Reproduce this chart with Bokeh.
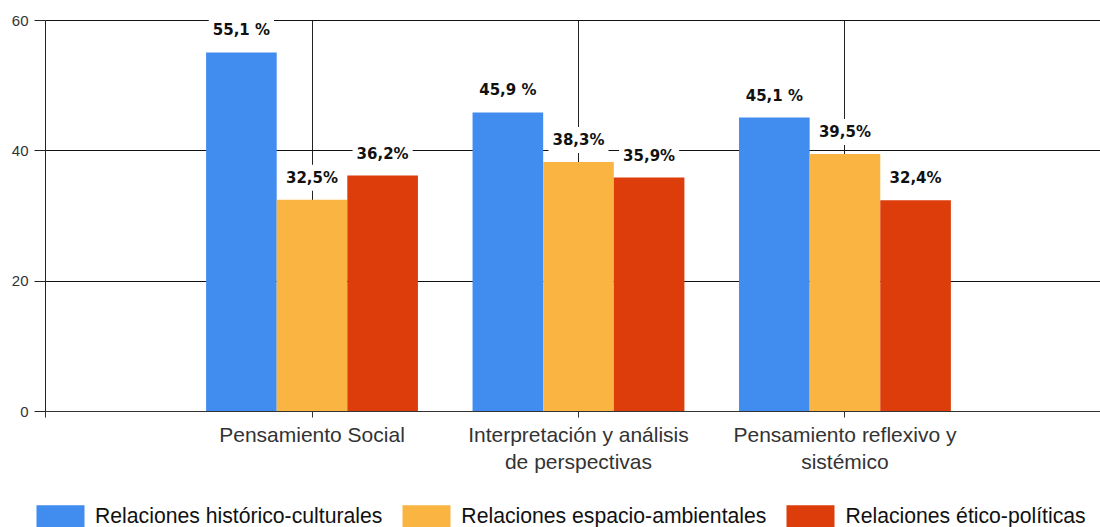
from bokeh.plotting import figure
from bokeh.models import Range1d, FixedTicker, Legend, LegendItem, Label, ColumnDataSource
from bokeh.transform import dodge
from bokeh.embed import file_html
from bokeh.resources import INLINE

categories = ["Pensamiento Social",
              "Interpretación y análisis\nde perspectivas",
              "Pensamiento reflexivo y\nsistémico"]
series_names = ["Relaciones histórico-culturales",
                "Relaciones espacio-ambientales",
                "Relaciones ético-políticas"]
historico = [55.1, 45.9, 45.1]
espacio = [32.5, 38.3, 39.5]
etico = [36.2, 35.9, 32.4]
labels_historico = ["55,1 %", "45,9 %", "45,1 %"]
labels_espacio = ["32,5%", "38,3%", "39,5%"]
labels_etico = ["36,2%", "35,9%", "32,4%"]
y_ticks = [0, 20, 40, 60]

colors = ["#418CEF", "#F9B442", "#DC3D0B"]
bar_w = 0.265
offsets = [-bar_w, 0.0, bar_w]

xpos = [i + 1 for i in range(len(categories))]
src = ColumnDataSource(dict(x=xpos, h=historico, e=espacio, t=etico))

X_MAX = 3.959
Y_MAX = 60
p = figure(width=1100, height=527, x_range=Range1d(-0.169, X_MAX), y_range=Range1d(-17.80, 63.07),
           output_backend="svg", toolbar_location=None, min_border=0)
p.outline_line_color = None
p.background_fill_color = "white"

renderers = []
for key, off, col in zip(["h", "e", "t"], offsets, colors):
    r = p.vbar(x=dodge("x", off, range=p.x_range), top=key, width=bar_w, source=src,
               fill_color=col, line_color=None)
    renderers.append(r)

# value labels
for vals, labs, off in zip([historico, espacio, etico],
                           [labels_historico, labels_espacio, labels_etico], offsets):
    for xi, v, lab in zip(xpos, vals, labs):
        p.add_layout(Label(x=xi + off, y=v, text=lab, text_align="center",
                           text_baseline="bottom", y_offset=9,
                           text_font="DejaVu Sans", text_font_style="bold",
                           text_font_size="15px", text_color="#111111",
                           background_fill_color="white", padding=4))

# axes (drawn at fixed data positions inside the canvas)
p.yaxis.fixed_location = 0
p.yaxis.bounds = (0, Y_MAX)
p.yaxis.ticker = FixedTicker(ticks=y_ticks)
p.yaxis.major_tick_out = 11
p.yaxis.major_tick_in = 0
p.yaxis.minor_tick_line_color = None
p.yaxis.major_label_standoff = 6
p.yaxis.major_label_text_font = "Liberation Sans"
p.yaxis.major_label_text_font_size = "15px"
p.yaxis.major_label_text_color = "#333333"
p.yaxis.axis_line_color = "#222222"
p.yaxis.major_tick_line_color = "#222222"

p.xaxis.fixed_location = 0
p.xaxis.bounds = (0, X_MAX)
p.xaxis.ticker = FixedTicker(ticks=[0] + xpos)
p.xaxis.major_label_overrides = {0: ""} | {x: c for x, c in zip(xpos, categories)}
p.xaxis.major_tick_out = 6
p.xaxis.major_tick_in = 0
p.xaxis.minor_tick_line_color = None
p.xaxis.major_label_standoff = 5
p.xaxis.major_label_text_font = "Liberation Sans"
p.xaxis.major_label_text_font_size = "21px"
p.xaxis.major_label_text_color = "#333333"
p.xaxis.axis_line_color = "#333333"
p.xaxis.major_tick_line_color = "#333333"

p.xgrid.ticker = FixedTicker(ticks=xpos)
p.xgrid.cross_bounds = (0, Y_MAX)
p.ygrid.ticker = FixedTicker(ticks=[20, 40, 60])
p.ygrid.cross_bounds = (0, X_MAX)
p.xgrid.grid_line_color = "#222222"
p.ygrid.grid_line_color = "#111111"

legend = Legend(items=[LegendItem(label=n, renderers=[r]) for n, r in zip(series_names, renderers)],
                orientation="horizontal", location=(30, -3),
                glyph_width=60, glyph_height=28, label_standoff=5, spacing=14,
                padding=0, margin=0, border_line_color=None, background_fill_alpha=0,
                label_text_font="Liberation Sans", label_text_font_size="21.2px",
                label_text_color="#111111")
p.add_layout(legend)

open("out.html", "w").write(file_html(p, INLINE))
